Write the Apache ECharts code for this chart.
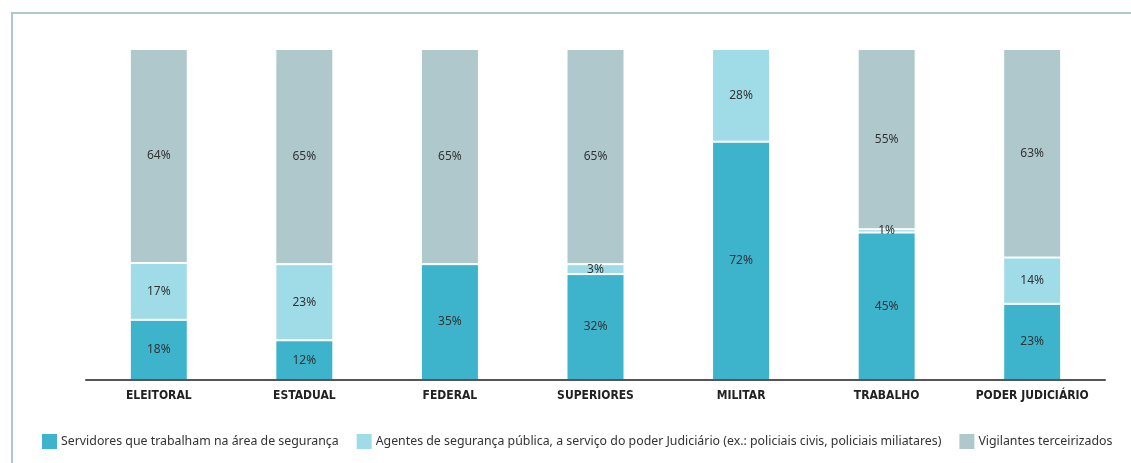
<!DOCTYPE html>
<html>
<head>
<meta charset="utf-8">
<script src="https://cdn.jsdelivr.net/npm/echarts@6/dist/echarts.min.js"></script>
<style>
    html, body {margin: 0; padding: 0; background: #fff;}
    #main {width: 1131px; height: 463px;}
</style>
</head>
<body>
<div id="main"></div>
<script>
// categorias
var categorias = ['ELEITORAL', 'ESTADUAL', 'FEDERAL', 'SUPERIORES', 'MILITAR', 'TRABALHO', 'PODER JUDICIÁRIO'];
// percentuais
var servidores = [18, 12, 35, 32, 72, 45, 23];
var agentes = [17, 23, 0, 3, 28, 1, 14];
var vigilantes = [64, 65, 65, 65, 0, 55, 63];

var nomes = [
    'Servidores que trabalham na área de segurança',
    'Agentes de segurança pública, a serviço do poder Judiciário (ex.: policiais civis, policiais miliatares)',
    'Vigilantes terceirizados'
];
var cores = ['#3db4cc', '#a0dbe8', '#afc8cc'];

// barras 100%: normaliza pelo total de cada categoria, mas o rótulo mostra o valor lido
function montar(valores, todos) {
    var out = [];
    for (var i = 0; i < valores.length; i++) {
        var total = todos[0][i] + todos[1][i] + todos[2][i];
        var v = valores[i];
        out.push(v > 0 ? {value: v / total * 100, raw: v} : '-');
    }
    return out;
}

var todos = [servidores, agentes, vigilantes];
var fonte = "'Noto Sans', sans-serif";

var myChart = echarts.init(document.getElementById('main'));
var series = [];
for (var s = 0; s < 3; s++) {
    series.push({
        name: nomes[s],
        type: 'bar',
        stack: 'total',
        barWidth: 58,
        data: montar(todos[s], todos),
        itemStyle: {color: cores[s], borderColor: '#fff', borderWidth: 1},
        label: {
            show: true,
            position: 'inside',
            color: '#333',
            fontSize: 12,
            fontFamily: fonte,
            formatter: function (p) {
                return p.data.raw + '%';
            }
        }
    });
}

myChart.setOption({
    animation: false,
    color: cores,
    grid: {left: 86, right: 26, top: 49, bottom: 83},
    graphic: [{
        type: 'polyline',
        shape: {points: [[12, 463], [12, 13], [1131, 13]]},
        style: {stroke: '#afc8cc', lineWidth: 2, fill: null}
    }],
    legend: {
        left: 35,
        top: 427,
        width: 1096,
        itemWidth: 17,
        itemHeight: 17,
        itemGap: 16,
        icon: 'rect',
        textStyle: {color: '#333', fontSize: 12.35, fontFamily: fonte, padding: [0, 0, 0, -2]},
        data: nomes
    },
    xAxis: {
        type: 'category',
        data: categorias,
        z: 5,
        axisTick: {show: false},
        axisLine: {lineStyle: {color: '#555', width: 2}},
        axisLabel: {
            interval: 0,
            color: '#222',
            fontWeight: 'bold',
            fontSize: 12,
            fontFamily: "'Liberation Sans Narrow', 'DejaVu Sans Condensed', sans-serif",
            margin: 10
        }
    },
    yAxis: {
        type: 'value',
        min: 0,
        max: 100,
        show: false
    },
    series: series
});
</script>
</body>
</html>
